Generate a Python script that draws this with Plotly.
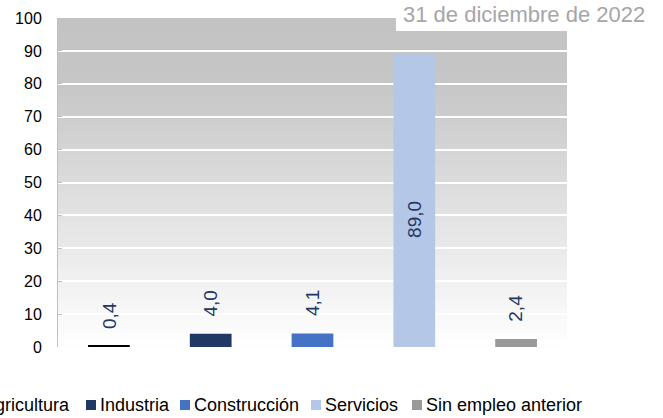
import plotly.graph_objects as go

categories = ["Agricultura", "Industria", "Construcción", "Servicios", "Sin empleo anterior"]
values = [0.4, 4.0, 4.1, 89.0, 2.4]
colors = ["#000000", "#1f3864", "#4472c4", "#b4c7e7", "#999999"]
y_ticks = [0, 10, 20, 30, 40, 50, 60, 70, 80, 90, 100]
title_text = "31 de diciembre de 2022"

W, H = 663, 418
ML, MR, MT, MB = 58, 96, 18, 71
PW, PH = W - ML - MR, H - MT - MB

def px_to_paper_x(px):
    return (px - ML) / PW

def px_to_paper_y(py):
    return (H - MB - py) / PH

fig = go.Figure()
fig.add_trace(go.Bar(
    x=categories, y=values,
    marker=dict(color=colors, line=dict(width=0)),
    width=0.41,
    textposition="none",
    cliponaxis=False,
    showlegend=False,
))

shapes = []
# background gradient bands (style only)
n = 50
def bg_color(yv):
    if yv >= 80:
        g = 195 + (100 - yv) / 20 * 3
    else:
        g = 198 + (80 - yv) / 80 * 57
    g = int(round(min(255, g)))
    return f"rgb({g},{g},{g})"
for i in range(n):
    y0 = 100 * i / n
    y1 = 100 * (i + 1) / n
    c = bg_color((y0 + y1) / 2)
    shapes.append(dict(type="rect", xref="x domain", yref="y", x0=0, x1=1, y0=y0, y1=min(100, y1 + 0.5),
                       fillcolor=c, line=dict(width=0), layer="below"))
# white box behind title
shapes.append(dict(type="rect", xref="paper", yref="paper",
                   x0=px_to_paper_x(396), x1=px_to_paper_x(568),
                   y0=px_to_paper_y(31), y1=px_to_paper_y(-2),
                   fillcolor="white", line=dict(width=0), layer="above"))

annotations = [dict(text=title_text, xref="paper", yref="paper",
                    x=px_to_paper_x(647), y=px_to_paper_y(14), xanchor="right", yanchor="middle",
                    showarrow=False, font=dict(family="Liberation Sans, Arial", size=22, color="#a6a6a6"))]

# data labels (rotated), outside for short bars, inside for the tall one
label_font = dict(family="Liberation Sans, Arial", size=19, color="#1f3864")
for cat, v in zip(categories, values):
    lbl = f"{v:.1f}".replace(".", ",")
    if v > 50:
        annotations.append(dict(text=lbl, x=cat, y=v / 2, xref="x", yref="y", showarrow=False,
                                textangle=-90, xanchor="center", yanchor="middle", yshift=-19,
                                font=label_font))
    else:
        annotations.append(dict(text=lbl, x=cat, y=v, xref="x", yref="y", showarrow=False,
                                textangle=-90, xanchor="center", yanchor="bottom", yshift=15,
                                font=label_font))

# custom legend
legend_marker_px = [-31, 86, 180, 311, 412]
leg_y = 405
for name, col, mx in zip(categories, colors, legend_marker_px):
    shapes.append(dict(type="rect", xref="paper", yref="paper",
                       x0=px_to_paper_x(mx), x1=px_to_paper_x(mx + 10),
                       y0=px_to_paper_y(leg_y + 5), y1=px_to_paper_y(leg_y - 5),
                       fillcolor=col, line=dict(width=0)))
    annotations.append(dict(text=name, xref="paper", yref="paper",
                            x=px_to_paper_x(mx + 12), y=px_to_paper_y(leg_y),
                            xanchor="left", yanchor="middle", showarrow=False,
                            font=dict(family="Liberation Sans, Arial", size=18, color="#000000")))

fig.update_layout(
    width=W, height=H,
    margin=dict(l=ML, r=MR, t=MT, b=MB, autoexpand=False),
    paper_bgcolor="white", plot_bgcolor="white",
    separators=",.",
    shapes=shapes, annotations=annotations,
    showlegend=False,
    font=dict(family="Liberation Sans, Arial", color="#000000"),
)
fig.update_xaxes(range=[-0.5, 4.5], showticklabels=False, showgrid=False, zeroline=False,
                 showline=False, ticks="")
fig.update_yaxes(range=[0, 100], tickvals=y_ticks, showgrid=True, gridcolor="white", gridwidth=1.5,
                 zeroline=False, showline=True, linecolor="#bfbfbf", linewidth=1,
                 ticks="inside", ticklen=4, tickcolor="#bfbfbf",
                 tickfont=dict(family="Liberation Sans, Arial", size=16, color="#000000"),
                 ticklabelstandoff=12)

fig.write_html("out.html", config={"displayModeBar": False},
               post_script="document.body.style.margin='0px';document.body.style.overflow='hidden';")
